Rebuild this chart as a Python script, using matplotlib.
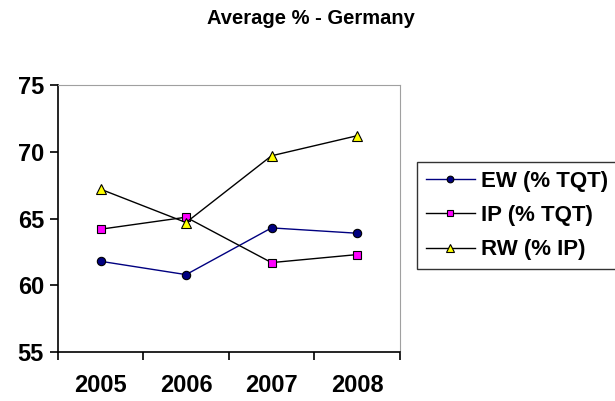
import matplotlib
matplotlib.use("Agg")
from matplotlib import pyplot as plt

plt.rcParams['font.family'] = ['Liberation Sans', 'DejaVu Sans']

years = ['2005', '2006', '2007', '2008']
ew = [61.8, 60.8, 64.3, 63.9]
ip = [64.2, 65.1, 61.7, 62.3]
rw = [67.2, 64.7, 69.7, 71.2]

fig = plt.figure(figsize=(6.15, 4.01), dpi=100)
ax = fig.add_axes([0.094, 0.122, 0.556, 0.666])

x = range(len(years))
ax.plot(x, ew, color='#000080', lw=1, marker='o', ms=6,
        mfc='#000080', mec='black', mew=0.8, label='EW (% TQT)')
ax.plot(x, ip, color='black', lw=1, marker='s', ms=5.5,
        mfc='#FF00FF', mec='black', mew=0.8, label='IP (% TQT)')
ax.plot(x, rw, color='black', lw=1, marker='^', ms=7.5,
        mfc='#FFFF00', mec='black', mew=0.8, label='RW (% IP)')

ax.set_xlim(-0.5, 3.5)
ax.set_ylim(55, 75)
ax.set_yticks([55, 60, 65, 70, 75])
ax.set_xticks([-0.5, 0.5, 1.5, 2.5, 3.5])
ax.set_xticklabels([])
ax.set_xticks(list(x), minor=True)
ax.set_xticklabels(years, minor=True, fontsize=17, fontweight='bold')
ax.tick_params(axis='x', which='minor', length=0, pad=16)
ax.tick_params(axis='x', which='major', direction='out', length=6, width=1.2)
ax.tick_params(axis='y', direction='out', length=6, width=1.2, labelsize=17, pad=4)
for lab in ax.get_yticklabels():
    lab.set_fontweight('bold')

ax.spines['left'].set_linewidth(1.2)
ax.spines['bottom'].set_linewidth(1.2)
ax.spines['top'].set_color('#A0A0A0')
ax.spines['right'].set_color('#A0A0A0')

fig.text(0.506, 0.955, 'Average % - Germany', ha='center', va='center',
         fontsize=14.5, fontweight='bold')

leg = ax.legend(loc='upper left', bbox_to_anchor=(1.05, 0.712), frameon=True,
                fancybox=False, edgecolor='black',
                prop={'weight': 'bold', 'size': 16}, handlelength=2.2,
                borderpad=0.4, labelspacing=0.6, handletextpad=0.3,
                borderaxespad=0, markerscale=0.8)
leg.get_frame().set_linewidth(1)

fig.savefig('out.png', dpi=100)
